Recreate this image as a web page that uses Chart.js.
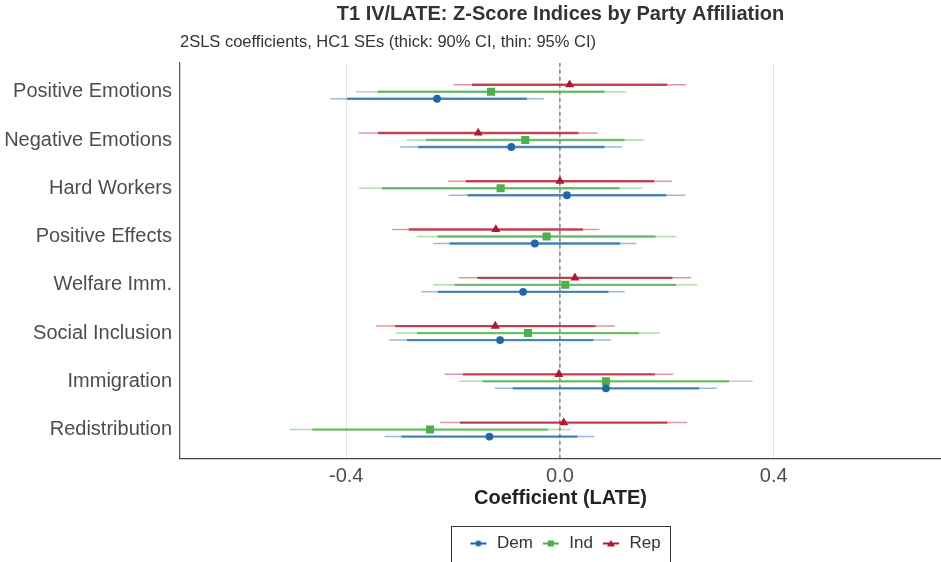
<!DOCTYPE html>
<html>
<head>
<meta charset="utf-8">
<script src="https://cdn.jsdelivr.net/npm/chart.js@4.4.1/dist/chart.umd.min.js"></script>
<style>
  body { margin: 0; background: #fff; }
  #wrap { width: 941px; height: 562px; }
</style>
</head>
<body>
<div id="wrap"><canvas id="myChart" width="941" height="562"></canvas></div>
<script>
// outcomes, top to bottom
var categories = ['Positive Emotions', 'Negative Emotions', 'Hard Workers', 'Positive Effects',
                  'Welfare Imm.', 'Social Inclusion', 'Immigration', 'Redistribution'];

// 2SLS estimates and HC1 standard errors
var demEst = [-0.230, -0.091, 0.013, -0.047, -0.069, -0.112, 0.086, -0.132];
var demSE  = [0.102, 0.106, 0.113, 0.097, 0.097, 0.106, 0.106, 0.100];
var indEst = [-0.129, -0.065, -0.111, -0.025, 0.010, -0.060, 0.086, -0.243];
var indSE  = [0.129, 0.113, 0.135, 0.124, 0.126, 0.126, 0.140, 0.134];
var repEst = [0.018, -0.153, 0.000, -0.120, 0.028, -0.121, -0.002, 0.007];
var repSE  = [0.111, 0.114, 0.107, 0.099, 0.111, 0.114, 0.109, 0.118];

var xTicks = [-0.4, 0, 0.4];
var z90 = 1.645, z95 = 1.96;

var parties = [
    { label: 'Dem', est: demEst, se: demSE, rgb: '33,102,172', style: 'circle', radius: 3.9, off: 0.145 },
    { label: 'Ind', est: indEst, se: indSE, rgb: '77,175,74', style: 'rect', radius: 5.7, off: 0 },
    { label: 'Rep', est: repEst, se: repSE, rgb: '178,24,43', style: 'triangle', radius: 5.2, off: -0.145 }
];

function ciData(p, z) {
    var pts = [];
    p.est.forEach(function (e, i) {
        pts.push({ x: e - z * p.se[i], y: i + 1 + p.off });
        pts.push({ x: e + z * p.se[i], y: i + 1 + p.off });
        pts.push({ x: null, y: null });
    });
    return pts;
}

function legendIcon(p) {
    var c = document.createElement('canvas');
    c.width = 20; c.height = 12;
    var g = c.getContext('2d');
    g.strokeStyle = 'rgb(' + p.rgb + ')';
    g.fillStyle = 'rgb(' + p.rgb + ')';
    g.lineWidth = 2;
    g.beginPath(); g.moveTo(2, 6); g.lineTo(18, 6); g.stroke();
    g.beginPath();
    if (p.style === 'circle') g.arc(10, 6, 3, 0, Math.PI * 2);
    else if (p.style === 'rect') g.rect(7, 3, 6, 6);
    else { g.moveTo(10, 2.5); g.lineTo(14, 9); g.lineTo(6, 9); g.closePath(); }
    g.fill();
    return c;
}

// first in list is drawn on top
var pointSets = [], thickSets = [], thinSets = [];
parties.forEach(function (p) {
    pointSets.push({
        label: p.label,
        data: p.est.map(function (e, i) { return { x: e, y: i + 1 + p.off }; }),
        showLine: false,
        pointStyle: p.style,
        pointRadius: p.radius,
        pointBackgroundColor: 'rgb(' + p.rgb + ')',
        pointBorderWidth: 0
    });
    thickSets.push({
        label: '',
        data: ciData(p, z90),
        borderColor: 'rgba(' + p.rgb + ',0.72)',
        borderWidth: 2.3,
        borderCapStyle: 'butt',
        pointRadius: 0,
        spanGaps: false
    });
    thinSets.push({
        label: '',
        data: ciData(p, z95),
        borderColor: 'rgba(' + p.rgb + ',0.45)',
        borderWidth: 1.5,
        borderCapStyle: 'butt',
        pointRadius: 0,
        spanGaps: false
    });
});
var zeroLine = {
    label: '',
    data: [{ x: 0, y: 0.4 }, { x: 0, y: 8.6 }],
    borderColor: '#555',
    borderWidth: 1,
    borderDash: [4, 3],
    pointRadius: 0
};

var legendFrame = {
    id: 'legendFrame',
    afterLayout: function (chart) {
        // ggplot centres the legend box a bit further right
        chart.legend.left += 8;
    },
    afterDraw: function (chart) {
        var lg = chart.legend, hb = lg.legendHitBoxes;
        if (!hb || !hb.length) return;
        var l = hb[0].left, r = hb[hb.length - 1].left + hb[hb.length - 1].width;
        var ctx = chart.ctx;
        ctx.save();
        ctx.strokeStyle = '#333';
        ctx.lineWidth = 1;
        ctx.strokeRect(Math.round(l - 17) + 0.5, Math.round(lg.top) - 0.5, Math.round(r - l + 27), 60);
        ctx.restore();
    }
};

Chart.defaults.font.family = '"Liberation Sans", Arial, sans-serif';

var ctx = document.getElementById('myChart').getContext('2d');
var myChart = new Chart(ctx, {
    type: 'line',
    data: { datasets: pointSets.concat(thickSets, thinSets, [zeroLine]) },
    options: {
        responsive: false,
        animation: false,
        layout: { padding: 0, autoPadding: false },
        plugins: {
            tooltip: { enabled: false },
            title: {
                display: true,
                text: 'T1 IV/LATE: Z-Score Indices by Party Affiliation',
                fullSize: false,
                align: 'center',
                color: '#333',
                font: { size: 20, weight: 'bold' },
                padding: { top: 2, bottom: 0 }
            },
            subtitle: {
                display: true,
                text: '2SLS coefficients, HC1 SEs (thick: 90% CI, thin: 95% CI)',
                fullSize: false,
                align: 'start',
                color: '#333',
                font: { size: 16.5 },
                padding: { top: 7, bottom: 10 }
            },
            legend: {
                position: 'bottom',
                fullSize: false,
                labels: {
                    usePointStyle: true,
                    pointStyleWidth: 20,
                    padding: 8,
                    color: '#333',
                    font: { size: 17 },
                    generateLabels: function () {
                        return parties.map(function (p, i) {
                            return {
                                text: p.label,
                                pointStyle: legendIcon(p),
                                fillStyle: 'transparent',
                                strokeStyle: 'transparent',
                                lineWidth: 0,
                                fontColor: '#333',
                                datasetIndex: i
                            };
                        });
                    }
                }
            }
        },
        scales: {
            x: {
                type: 'linear',
                min: -0.711,
                max: 0.713,
                afterBuildTicks: function (axis) {
                    axis.ticks = xTicks.map(function (v) { return { value: v }; });
                },
                afterFit: function (axis) { axis.height = 68.5; },
                ticks: {
                    padding: 6,
                    color: '#4d4d4d',
                    font: { size: 20 },
                    callback: function (v) { return v.toFixed(1); }
                },
                grid: { color: '#e2e2e2', lineWidth: 1, drawTicks: false },
                border: { display: true, color: '#444', width: 1.2 },
                title: {
                    display: true,
                    text: 'Coefficient (LATE)',
                    color: '#222',
                    font: { size: 20, weight: 'bold' },
                    padding: { top: 0, bottom: 17 }
                }
            },
            y: {
                type: 'linear',
                reverse: true,
                min: 0.4,
                max: 8.6,
                afterBuildTicks: function (axis) {
                    axis.ticks = categories.map(function (c, i) { return { value: i + 1 }; });
                },
                afterFit: function (axis) { axis.width = 180; },
                ticks: {
                    padding: 8,
                    color: '#4d4d4d',
                    font: { size: 20 },
                    callback: function (v) { return categories[v - 1]; }
                },
                grid: { display: false, drawTicks: false },
                border: { display: true, color: '#555', width: 1.2 }
            }
        }
    },
    plugins: [legendFrame]
});
</script>
</body>
</html>
